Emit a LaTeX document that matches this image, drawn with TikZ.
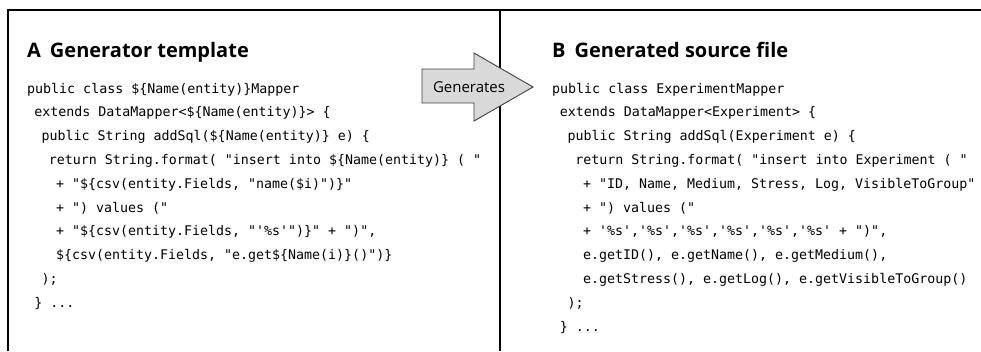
\documentclass[tikz,border=0pt]{standalone}
\usepackage{fontspec}
\setmainfont{Open Sans}
\newfontfamily\codefont{DejaVu Sans Mono}
\usetikzlibrary{positioning}
\definecolor{carrow}{HTML}{D9D9D9}
\definecolor{cedge}{HTML}{404040}
\tikzset{
  frame/.style={line width=2pt, draw=black},
  code/.style={anchor=base west, inner sep=0pt, font=\codefont\fontsize{13.3}{16}\selectfont},
  paneltitle/.style={anchor=base west, inner sep=0pt, font=\bfseries\fontsize{20}{24}\selectfont},
  genarrow/.style={fill=carrow, draw=cedge, line width=0.9pt, line join=miter},
  genlbl/.style={inner sep=0pt, font=\fontsize{15}{18}\selectfont},
}
\begin{document}
\begin{tikzpicture}[x=1pt,y=-1pt]
\useasboundingbox (0,0) rectangle (981,351);
% panels
\draw[frame] (8,351) -- (8,9.5) -- (981,9.5);
\draw[frame] (500,9.5) -- (500,351);
\node[paneltitle] (ta) at (27,57) {A\hspace{0.45em}Generator template};
\node[paneltitle] (tb) at (552,57) {B\hspace{0.45em}Generated source file};
% template
\foreach \i/\d/\t in {1/0/{public class \$\{Name(entity)\}Mapper},
  2/1/{extends DataMapper<\$\{Name(entity)\}> \{},
  3/2/{public String addSql(\$\{Name(entity)\} e) \{},
  4/3/{return String.format( "insert into \$\{Name(entity)\} ( "},
  5/4/{+ "\$\{csv(entity.Fields, "name(\$i)")\}"},
  6/4/{+ ") values ("},
  7/4/{+ "\$\{csv(entity.Fields, "'\%s'")\}" + ")",},
  8/4/{\$\{csv(entity.Fields, "e.get\$\{Name(i)\}()")\}},
  9/2/{);},
  10/1/{\} ...}}{
  \node[code] (a\i) at ({27+7.2*\d},{93+23.8*(\i-1)}) {\t};
}
% generated file
\foreach \i/\d/\t in {1/0/{public class ExperimentMapper},
  2/1/{extends DataMapper<Experiment> \{},
  3/2/{public String addSql(Experiment e) \{},
  4/3/{return String.format( "insert into Experiment ( "},
  5/4/{+ "ID, Name, Medium, Stress, Log, VisibleToGroup"},
  6/4/{+ ") values ("},
  7/4/{+ '\%s','\%s','\%s','\%s','\%s','\%s' + ")",},
  8/4/{e.getID(), e.getName(), e.getMedium(),},
  9/4/{e.getStress(), e.getLog(), e.getVisibleToGroup()},
  10/2/{);},
  11/1/{\} ...}}{
  \node[code] (b\i) at ({552+7.7*\d},{93+23.8*(\i-1)}) {\t};
}
% arrow
\draw[genarrow] (422,69) -- (474,69) -- (474,53) -- (533,87) -- (474,121) -- (474,103) -- (422,103) -- cycle;
\node[genlbl] (gen) at (469,87) {Generates};
\end{tikzpicture}
\end{document}
